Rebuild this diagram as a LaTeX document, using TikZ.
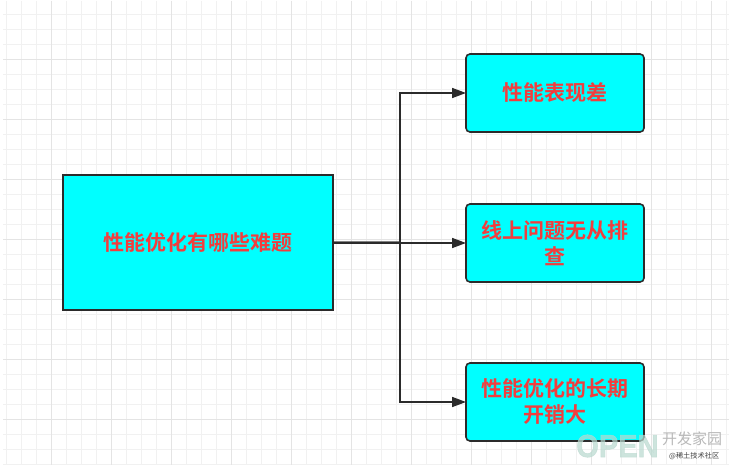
\documentclass[tikz,border=0pt]{standalone}
\usepackage{fontspec}
\usepackage{graphicx}
\setmainfont{Noto Sans CJK SC}[BoldFont={* Bold}]
\newfontfamily\cjkbold{Noto Sans CJK SC Bold}
\newfontfamily\latinbold[FakeBold=1.5]{Liberation Sans Bold}
\usetikzlibrary{arrows.meta}
\definecolor{minorgrid}{HTML}{F1F1F1}
\definecolor{majorgrid}{HTML}{E4E4E4}
\definecolor{boxedge}{HTML}{2B2B2B}
\definecolor{boxfill}{HTML}{00FFFF}
\definecolor{boxtext}{HTML}{F23D3D}
\definecolor{markgreen}{HTML}{B9D9CF}
\tikzset{
  x=1pt, y=-1pt,
  box/.style={draw=boxedge, fill=boxfill, line width=1.6pt, anchor=north west, inner sep=0pt, outer sep=0pt,
    font=\cjkbold\fontsize{21}{26}\selectfont, text=boxtext, align=center},
  sidebox/.style={box, rounded corners=4pt, minimum width=178pt, minimum height=78pt},
  wire/.style={draw=boxedge, line width=1.7pt},
  link/.style={wire, -{Triangle[length=14pt,width=10pt]}},
}
\begin{document}
\begin{tikzpicture}
\useasboundingbox (0,0) rectangle (729,465);
\fill[white] (0,0) rectangle (729,465);
% ruled paper
\foreach \gx in {6.5,21.5,...,730} \draw[minorgrid, line width=0.9pt] (\gx,1) -- (\gx,465);
\foreach \gy in {14.5,29.5,...,465} \draw[minorgrid, line width=0.9pt] (3,\gy) -- (729,\gy);
\foreach \gx in {51.5,111.5,...,730} \draw[majorgrid, line width=0.9pt] (\gx,1) -- (\gx,465);
\foreach \gy in {59.5,119.5,...,465} \draw[majorgrid, line width=0.9pt] (3,\gy) -- (729,\gy);
% boxes
\node[box, minimum width=270pt, minimum height=135pt] (root) at (63,175) {性能优化有哪些难题};
\node[sidebox] (slow) at (466,54) {性能表现差};
\node[sidebox] (debug) at (466,204) {线上问题无从排\\查};
\node[sidebox] (cost) at (466,363) {性能优化的长期\\开销大};
% connectors: the straight one runs a hair below the two branch legs
\coordinate (bus) at (400,242.4);
\coordinate (rootlow) at (333,243);
\draw[link] (rootlow) -- (debug.west);
\draw[link] (root.east) -- (bus) |- (slow.west);
\draw[link] (root.east) -- (bus) |- (cost.west);
% site mark in the corner
\node[anchor=west, inner sep=0pt, text=markgreen, opacity=0.7, font=\latinbold\fontsize{32}{32}\selectfont] (mark) at (576,446) {\scalebox{0.91}[1]{OPEN}};
\node[anchor=west, inner sep=0pt, text=black!28, font=\fontsize{15}{15}\selectfont] (markcn) at (662,439) {开发家园};
\node[anchor=west, inner sep=0pt, text=black!75, font=\fontsize{7.2}{7.2}\selectfont] (marksub) at (669,456) {@稀土技术社区};
\end{tikzpicture}
\end{document}
